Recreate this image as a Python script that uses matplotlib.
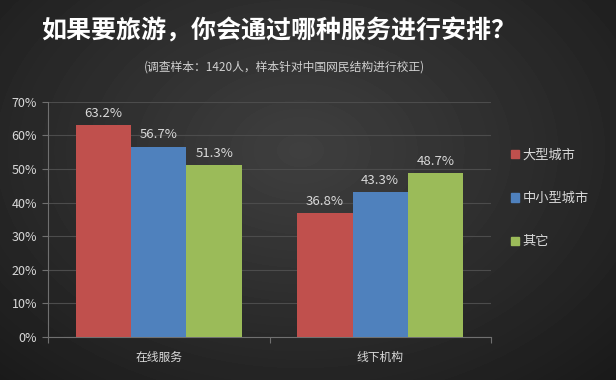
import numpy as np
import matplotlib
matplotlib.use("Agg")
import matplotlib.pyplot as plt
from matplotlib.patches import Patch

plt.rcParams['font.family'] = ['Noto Sans CJK SC', 'DejaVu Sans']

# data
categories = ["在线服务", "线下机构"]
series_names = ["大型城市", "中小型城市", "其它"]
big_city = [63.2, 36.8]
small_city = [56.7, 43.3]
other = [51.3, 48.7]
yticks = [0, 10, 20, 30, 40, 50, 60, 70]

colors = ["#C0504D", "#4F81BD", "#9BBB59"]
text_color = "#d9d9d9"

fig = plt.figure(figsize=(6.16, 3.8), dpi=100)
fig.patch.set_facecolor("#2a2a2a")

# dark radial background
bg = fig.add_axes([0, 0, 1, 1])
yy, xx = np.mgrid[0:380, 0:616]
r = np.sqrt(((xx - 300) / 420.0) ** 2 + ((yy - 150) / 300.0) ** 2)
shade = np.clip(0.25 - 0.14 * r, 0.10, 0.25)
bg.imshow(shade, cmap="gray", vmin=0, vmax=1, aspect="auto", extent=[0, 1, 0, 1])
bg.axis("off")

ax = fig.add_axes([0.078, 0.113, 0.719, 0.619])
ax.set_facecolor("none")

x = np.arange(len(categories))
width = 0.25
values = [big_city, small_city, other]

for i in range(3):
    bars = ax.bar(x + (i - 1) * width, values[i], width,
                  color=colors[i], label=series_names[i], zorder=3)
    for b, v in zip(bars, values[i]):
        ax.text(b.get_x() + b.get_width() / 2, v + 1.5, f"{v:.1f}%",
                ha="center", va="bottom", color=text_color, fontsize=9.5)

ax.set_xlim(-0.5, 1.5)
ax.set_ylim(0, 70)
ax.set_yticks(yticks)
ax.set_yticklabels([f"{t}%" for t in yticks], color=text_color, fontsize=9)

ax.set_xticks([-0.5, 0.5, 1.5])
ax.set_xticklabels([])
ax.set_xticks(x, minor=True)
ax.set_xticklabels(categories, minor=True, color=text_color, fontsize=8.5)
ax.tick_params(axis="x", which="minor", length=0, pad=10)
ax.tick_params(axis="x", which="major", length=4, color="#707070")
ax.tick_params(axis="y", length=4, color="#707070", pad=4)

ax.grid(axis="y", color="#4c4c4c", linewidth=0.8, zorder=0)
for s in ["top", "right"]:
    ax.spines[s].set_visible(False)
ax.spines["left"].set_color("#707070")
ax.spines["bottom"].set_color("#707070")

handles = [Patch(color=c) for c in colors]
leg = fig.legend(handles, series_names, loc="upper left",
                 bbox_to_anchor=(0.81, 0.64), frameon=False,
                 fontsize=9.5, labelcolor=text_color,
                 handlelength=0.6, handleheight=0.6, handletextpad=0.3,
                 labelspacing=2.3)

fig.text(0.452, 0.92, "如果要旅游，你会通过哪种服务进行安排？",
         ha="center", va="center", color="white", fontsize=18, fontweight="bold")
fig.text(0.461, 0.823, "(调查样本：1420人，样本针对中国网民结构进行校正)",
         ha="center", va="center", color="#d0d0d0", fontsize=8.5)

fig.savefig("out.png", dpi=100, facecolor=fig.get_facecolor())
